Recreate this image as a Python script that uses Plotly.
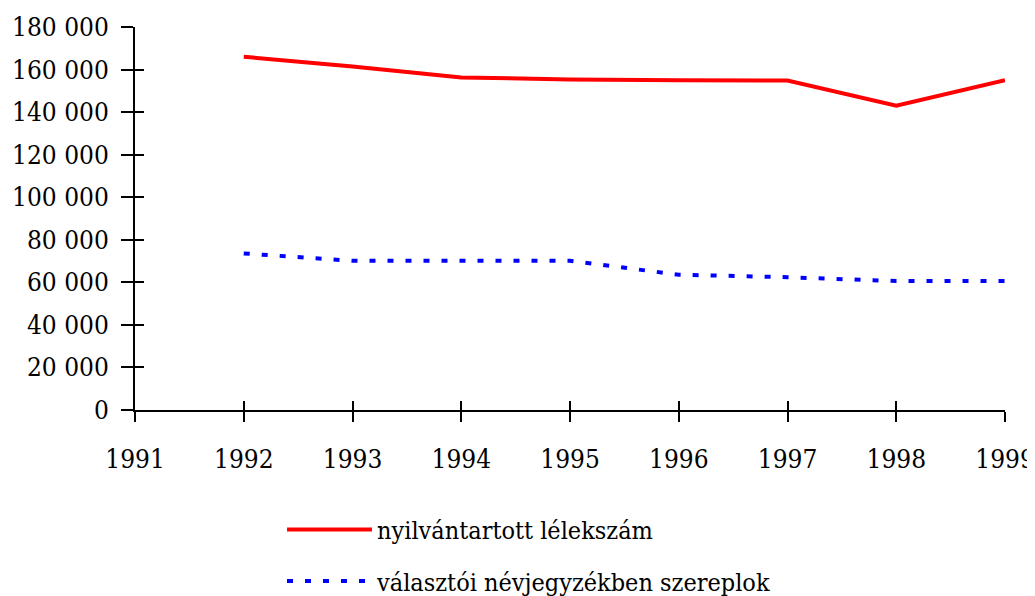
import plotly.graph_objects as go

years = [1992, 1993, 1994, 1995, 1996, 1997, 1998, 1999]
registered = [166000, 161400, 156300, 155300, 155000, 154800, 143000, 155000]
voters = [73500, 70000, 70000, 70000, 63500, 62300, 60500, 60500]
x_ticks = list(range(1991, 2000))
y_ticks = list(range(0, 180001, 20000))

FONT = "'DejaVu Serif Condensed', 'Liberation Serif', serif"

fig = go.Figure()
fig.add_trace(go.Scatter(
    x=years, y=registered, mode="lines", name="nyilvántartott lélekszám",
    line=dict(color="#ff0000", width=4), legendgroup="a"))
fig.add_trace(go.Scatter(
    x=years, y=voters, mode="lines", name="választói névjegyzékben szereplok",
    line=dict(color="#0000ff", width=4, dash="6px,12px"), legendgroup="b",
    xaxis="x2", yaxis="y2"))

axis_common = dict(showgrid=False, zeroline=False, automargin=False)
fig.update_layout(
    width=1035, height=596,
    margin=dict(l=127, r=38, t=19, b=0),
    paper_bgcolor="white", plot_bgcolor="white",
    separators=", ",
    font=dict(family=FONT, size=24, color="black"),
    xaxis=dict(range=[1991, 1999], tickvals=x_ticks, ticks="outside", ticklen=10,
               tickwidth=2, tickcolor="black", showline=True, linecolor="black",
               linewidth=2, ticklabelstandoff=15, tickfont=dict(family=FONT, size=26),
               **axis_common),
    yaxis=dict(range=[0, 180000], tickvals=y_ticks, tickformat=",d", ticks="outside",
               ticklen=12, tickwidth=2, tickcolor="black", showline=True, linecolor="black",
               linewidth=2, ticklabelstandoff=7, tickfont=dict(family=FONT, size=26),
               domain=[0.3298, 1], **axis_common),
    xaxis2=dict(range=[1991, 1999], tickvals=x_ticks, overlaying="x", anchor="y2", side="bottom",
                ticks="inside", ticklen=9, tickwidth=2, tickcolor="black",
                showticklabels=False, showline=False, **axis_common),
    yaxis2=dict(range=[0, 180000], tickvals=y_ticks, overlaying="y", anchor="x2", side="left",
                ticks="inside", ticklen=9, tickwidth=2, tickcolor="black",
                showticklabels=False, showline=False, **axis_common),
    showlegend=True,
    legend=dict(x=0.169, y=0.16, xanchor="left", yanchor="top",
                font=dict(family=FONT, size=25), traceorder="grouped",
                tracegroupgap=16, itemwidth=85, bgcolor="rgba(0,0,0,0)"),
)

fig.write_html("out.html")
